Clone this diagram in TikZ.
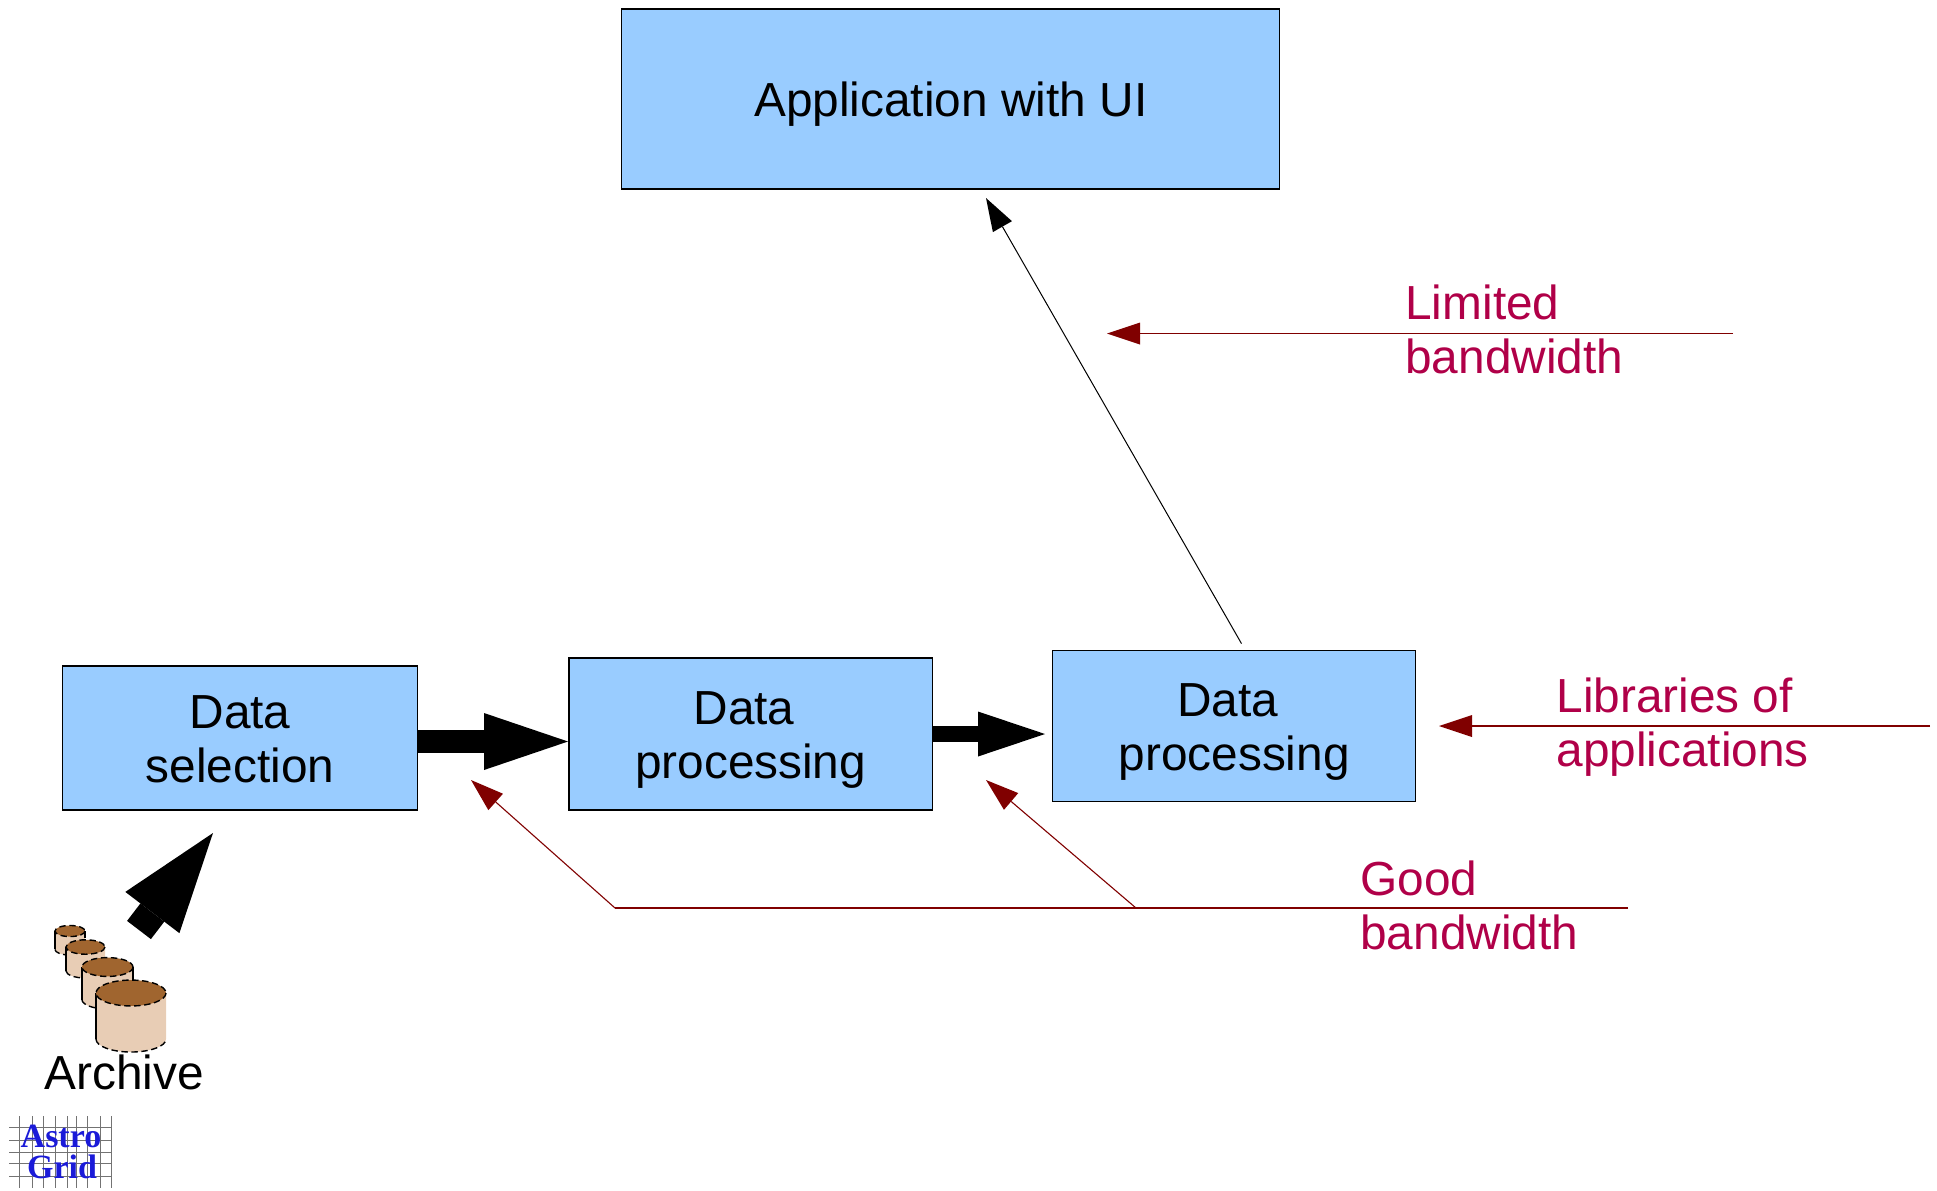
\documentclass[tikz,border=0pt]{standalone}
\usepackage{fontspec}
\setmainfont{Liberation Sans}
\newfontfamily\logofont{Liberation Serif}
\usetikzlibrary{arrows.meta}
\definecolor{boxblue}{HTML}{99CCFF}
\definecolor{notered}{HTML}{B00048}
\definecolor{linered}{HTML}{800000}
\definecolor{tan}{HTML}{E8CDB5}
\definecolor{lid}{HTML}{A0652F}
\definecolor{logoblue}{HTML}{1A1AD8}
\tikzset{
  blockbox/.style={draw=black,line width=0.6pt,fill=boxblue,inner sep=0pt,align=center,
    font=\fontsize{23.9}{27}\selectfont},
  redlabel/.style={text=notered,inner sep=0pt,align=left,anchor=west,
    font=\fontsize{23.9}{27}\selectfont},
  thinhead/.style={-{Triangle[length=16.5pt,width=11pt,line width=0pt]}},
  redline/.style={draw=linered,line width=0.55pt},
  cylside/.style={fill=tan,draw=none},
  cyldash/.style={draw=black,line width=0.7pt,dash pattern=on 3.2pt off 1.8pt},
  cylsolid/.style={draw=black,line width=0.7pt},
  gridline/.style={draw=black!55,line width=0.5pt},
  logotext/.style={text=logoblue,inner sep=0pt,font=\logofont\bfseries\fontsize{17}{18}\selectfont}
}
\newcommand{\pushdown}[1]{\rule{0pt}{\dimexpr 17.5pt+2\dimexpr #1\relax\relax}}
\newcommand{\can}[4]{% cx, rx, top y, lowest y
  \pgfmathsetmacro{\ry}{0.37*#2}
  \pgfmathsetmacro{\low}{#4-\ry}
  \fill[cylside] (#1-#2,#3) -- (#1-#2,\low) arc[start angle=180,end angle=360,x radius=#2,y radius=-\ry] -- (#1+#2,#3) -- cycle;
  \draw[cyldash] (#1-#2,\low) arc[start angle=180,end angle=360,x radius=#2,y radius=-\ry];
  \draw[cylsolid] (#1-#2,#3) -- (#1-#2,\low);
  \fill[lid] (#1,#3) ellipse[x radius=#2,y radius=\ry];
  \draw[cyldash] (#1,#3) ellipse[x radius=#2,y radius=\ry];
}
\begin{document}
\begin{tikzpicture}[x=0.5pt,y=-0.5pt]
\useasboundingbox (0,0) rectangle (1937,1190);

\node[blockbox,minimum width=329pt,minimum height=90pt] (app) at (950.8,99) {\pushdown{2.4pt}Application with UI};
\node[blockbox,minimum width=177.5pt,minimum height=72pt] (sel) at (240,738) {\pushdown{0pt}Data\\selection};
\node[blockbox,minimum width=181.7pt,minimum height=76pt] (procA) at (750.6,734) {\pushdown{2.5pt}\mbox{Data\kern 6.6pt}\\processing};
\node[blockbox,minimum width=181.5pt,minimum height=75.5pt] (procB) at (1234.2,726.2) {\pushdown{2.5pt}\mbox{Data\kern 6.6pt}\\processing};

% thick arrows
\coordinate (tipA) at (568,741.5);
\coordinate (tailA) at (sel.east |- tipA);
\draw[line width=11.5pt,-{Triangle[length=42pt,width=28.5pt,line width=0pt]}] (tailA) -- (tipA);
\coordinate (tipB) at (1045,734);
\coordinate (tailB) at (procA.east |- tipB);
\draw[line width=8pt,-{Triangle[length=33.5pt,width=22.5pt,line width=0pt]}] (tailB) -- (tipB);

% archive arrow
\coordinate (archTail) at (139,930);
\coordinate (archTip) at (213,833);
\draw[line width=15pt,-{Triangle[length=50pt,width=34pt,line width=0pt]}] (archTail) -- (archTip);

% thin black arrow
\coordinate (upFrom) at (1241.5,643.6);
\coordinate (upTo) at (986,198);
\draw[black,line width=0.5pt,thinhead] (upFrom) -- (upTo);

% red lines
\coordinate (limFrom) at (1733,333.5);
\coordinate (limTo) at (1107,333.5);
\draw[redline,thinhead] (limFrom) -- (limTo);
\coordinate (libFrom) at (1930,726);
\coordinate (libTo) at (1439,726);
\draw[redline,thinhead] (libFrom) -- (libTo);
\coordinate (goodFrom) at (1628,908);
\coordinate (goodBend) at (615,908);
\coordinate (goodBranch) at (1136,908);
\coordinate (goodTipA) at (471,780);
\coordinate (goodTipB) at (986,780);
\draw[redline,line width=0.7pt] (goodFrom) -- (goodBend);
\draw[redline,thinhead] (goodBend) -- (goodTipA);
\draw[redline,thinhead] (goodBranch) -- (goodTipB);

% labels
\node[redlabel] (limited) at (1405,329) {Limited\\bandwidth};
\node[redlabel] (libs) at (1556,727) {Libraries of\\applications};
\node[redlabel] (good) at (1360,905) {Good\\bandwidth};
\node[inner sep=0pt,font=\fontsize{23.9}{27}\selectfont] (archive) at (124,1072) {Archive};

% archive cans
\can{70}{15}{931}{955}
\draw[cylsolid] (85,931) -- (85,938);
\can{85.5}{19.5}{947}{978}
\can{107.5}{25.5}{967}{1009}
\draw[cylsolid] (133,967) -- (133,981);
\can{131}{35}{993}{1052}

% logo
\foreach \gx in {19,32,43,55,67,76,87,100,111} {\draw[gridline] (\gx,1116) -- (\gx,1188);}
\foreach \gy in {1127,1140,1152,1163,1176} {\draw[gridline] (9,\gy) -- (112,\gy);}
\node[logotext] (astro) at (61,1136) {Astro};
\node[logotext] (gridword) at (62,1167) {Grid};
\end{tikzpicture}
\end{document}
